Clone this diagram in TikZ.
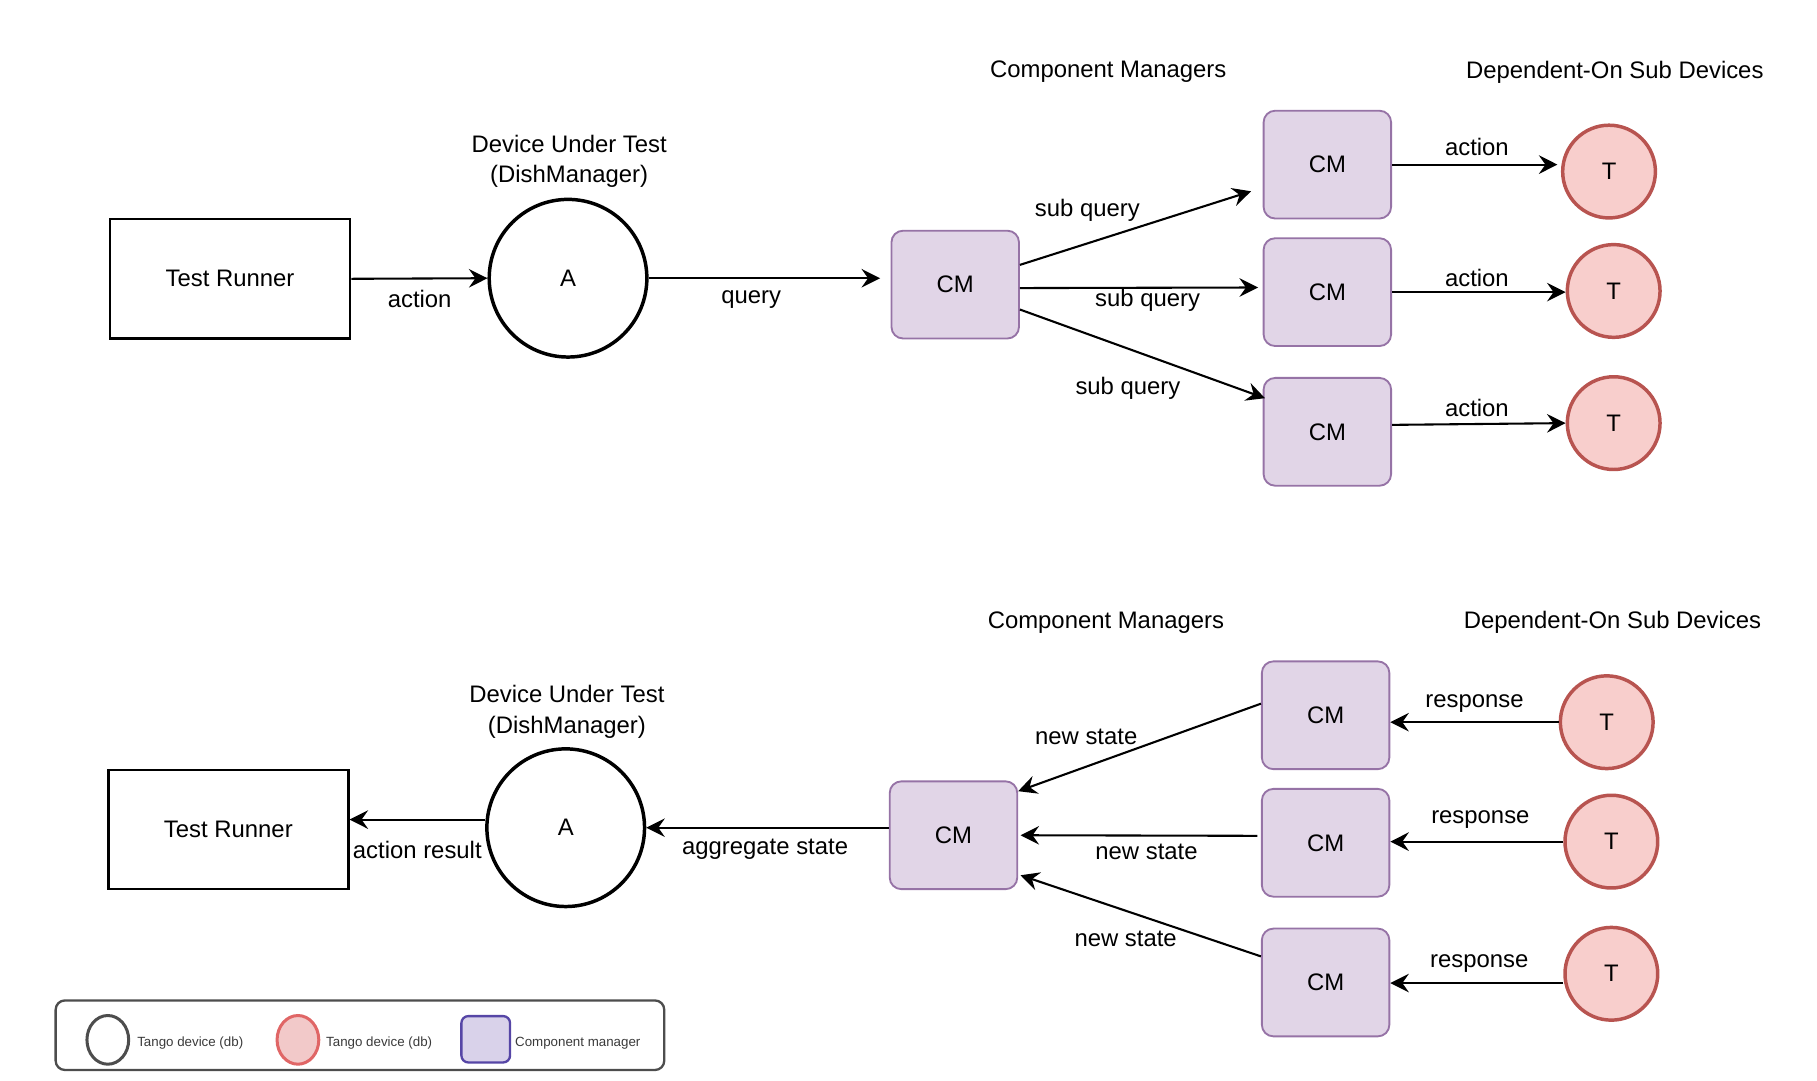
\documentclass[tikz,border=0pt]{standalone}
\usepackage{fontspec}
\setmainfont{Liberation Sans}
\usetikzlibrary{arrows.meta,shapes.geometric,calc}
\definecolor{cmfill}{HTML}{E1D5E7}
\definecolor{cmline}{HTML}{9673A6}
\definecolor{devfill}{HTML}{F8CECC}
\definecolor{devline}{HTML}{B85450}
\definecolor{keyline}{HTML}{4D4D4D}
\definecolor{keyred}{HTML}{E06666}
\definecolor{keypink}{HTML}{F2C9C9}
\definecolor{keyblue}{HTML}{5646A6}
\definecolor{keypurple}{HTML}{D9D2EA}
\definecolor{keytxt}{HTML}{3A3A3A}
\tikzstyle{runner}=[rectangle, draw, line width=1pt, minimum width=103.5pt, minimum height=51.5pt]
\tikzstyle{dut}=[circle, draw, line width=1.5pt, minimum size=68pt]
\tikzstyle{cmbox}=[rectangle, rounded corners=5pt, draw=cmline, fill=cmfill, line width=0.8pt, minimum width=55pt, minimum height=46.5pt]
\tikzstyle{subdev}=[circle, draw=devline, fill=devfill, line width=1.5pt, minimum size=40pt]
\tikzstyle{flow}=[-{Stealth[length=8pt, width=8pt, inset=2.8pt]}, line width=0.9pt]
\tikzstyle{lbl}=[inner sep=0pt]
\tikzstyle{keytext}=[inner sep=0pt, anchor=west, text=keytxt, font=\fontsize{5.75}{7}\selectfont]

\begin{document}
\begin{tikzpicture}[x=0.5pt, y=-0.5pt, every node/.style={font=\fontsize{10.3}{13}\selectfont}]
    \useasboundingbox (0,0) rectangle (1567.4,931.7);
    % query / action path
    \node[lbl] (cmhead) at (956,62) {Component Managers};
    \node[lbl] (devhead) at (1393,62) {Dependent-On Sub Devices};
    \node[lbl, align=center] (duthead) at (491,139) {Device Under Test\\(DishManager)};
    \node[runner] (tr) at (198.5,240.5) {Test Runner};
    \node[dut] (a) at (490,240) {A};
    \node[cmbox] (cm) at (824,245.5) {CM};
    \node[cmbox] (cma) at (1145,142) {CM};
    \node[cmbox] (cmb) at (1145,252) {CM};
    \node[cmbox] (cmc) at (1145,372.5) {CM};
    \node[subdev] (ta) at (1388,148) {T};
    \node[subdev] (tb) at (1392,251) {T};
    \node[subdev] (tc) at (1392,365) {T};
    \draw[flow] (tr.east) -- (a.west);
    \draw[flow, shorten >=4.5pt] (a.east) -- (a.east -| cm.west);
    \draw[flow] ($(cm.east)+(0,-17)$) -- ($(cma.west)+(-10,23)$);
    \draw[flow] ($(cm.east)+(0,3)$) -- ($(cmb.west)+(-4,-4)$);
    \draw[flow] ($(cm.east)+(0,21.5)$) -- ($(cmc.west)+(2,-29)$);
    \draw[flow, shorten >=1.5pt] (cma.east) -- (cma.east -| ta.west);
    \draw[flow] (cmb.east) -- (cmb.east -| tb.west);
    \draw[flow] ($(cmc.east)+(0,-6)$) -- (tc.west);
    \node[lbl] (l1) at (362,258) {action};
    \node[lbl] (l2) at (648,258) {query};
    \node[lbl] (l3) at (938,181) {sub query};
    \node[lbl] (l4) at (990,259) {sub query};
    \node[lbl] (l5) at (973,335) {sub query};
    \node[lbl] (l6) at (1274,127) {action};
    \node[lbl] (l7) at (1274,240) {action};
    \node[lbl] (l8) at (1274,352) {action};
    % state / result path
    \node[lbl] (cmhead2) at (954,537) {Component Managers};
    \node[lbl] (devhead2) at (1391,537) {Dependent-On Sub Devices};
    \node[lbl, align=center] (duthead2) at (489,614) {Device Under Test\\(DishManager)};
    \node[runner] (tr2) at (197,715.5) {Test Runner};
    \node[dut] (a2) at (488,714) {A};
    \node[cmbox] (cm2) at (822.5,720.5) {CM};
    \node[cmbox] (cmd) at (1143.5,617) {CM};
    \node[cmbox] (cme) at (1143.5,727) {CM};
    \node[cmbox] (cmf) at (1143.5,847.5) {CM};
    \node[subdev] (td) at (1386,623) {T};
    \node[subdev] (te) at (1390,726) {T};
    \node[subdev] (tf) at (1390,840) {T};
    \coordinate (ar) at ($(a2.west)+(0,-7)$);
    \draw[flow] (ar) -- (ar -| tr2.east);
    \draw[flow] (a2.east -| cm2.west) -- (a2.east);
    \draw[flow] ($(cmd.west)+(0,-10)$) -- ($(cm2.east)+(0,-38)$);
    \draw[flow] ($(cme.west)+(-3,-6)$) -- ($(cm2.east)+(2,0)$);
    \draw[flow] ($(cmf.west)+(0,-22.5)$) -- ($(cm2.east)+(2,34.5)$);
    \draw[flow] (td.west) -- (td.west -| cmd.east);
    \draw[flow] (te.west) -- (te.west -| cme.east);
    \coordinate (rf) at ($(tf.west)+(0,8)$);
    \draw[flow] (rf) -- (rf -| cmf.east);
    \node[lbl] (r1) at (360,733) {action result};
    \node[lbl] (r2) at (660,733) {aggregate state};
    \node[lbl] (r3) at (937,636) {new state};
    \node[lbl] (r4) at (989,735) {new state};
    \node[lbl] (r5) at (971,810) {new state};
    \node[lbl] (r6) at (1272,607) {response};
    \node[lbl] (r7) at (1277,707) {response};
    \node[lbl] (r8) at (1276,831) {response};
    % legend
    \node[draw=keyline, line width=1pt, rounded corners=4pt, minimum width=262.5pt, minimum height=30pt] (key) at (310.5,893) {};
    \node[ellipse, draw=keyline, line width=1.3pt, minimum width=18pt, minimum height=21pt] (k1) at (93,897) {};
    \node[keytext] (k1t) at (118,900) {Tango device (db)};
    \node[ellipse, draw=keyred, fill=keypink, line width=1.3pt, minimum width=18pt, minimum height=21pt] (k2) at (257,897) {};
    \node[keytext] (k2t) at (281,900) {Tango device (db)};
    \node[rectangle, rounded corners=3pt, draw=keyblue, fill=keypurple, line width=1pt, minimum width=21pt, minimum height=20pt] (k3) at (419,896.5) {};
    \node[keytext] (k3t) at (444,900) {Component manager};
\end{tikzpicture}
\end{document}
